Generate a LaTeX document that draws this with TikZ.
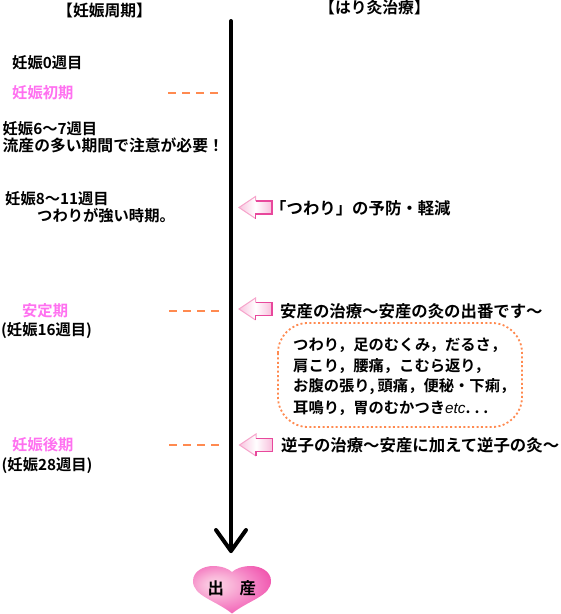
\documentclass[tikz,border=0pt]{standalone}
\usepackage{fontspec}
\setmainfont{Noto Sans CJK JP}[BoldFont={Noto Sans CJK JP Bold}]
\newfontfamily\latinlabel{Liberation Sans}
\definecolor{dashorange}{HTML}{FF8A50}
\definecolor{softpink}{HTML}{FF70F0}
\definecolor{rimpink}{HTML}{E8489C}
\definecolor{lightrim}{HTML}{F6A6CC}
\definecolor{fillpink}{HTML}{F8BEDC}
\definecolor{heartA}{HTML}{FCD6E8}
\definecolor{heartB}{HTML}{F9B4D8}
\definecolor{heartC}{HTML}{F478C0}
\definecolor{heartD}{HTML}{EE3FA2}
\pgfdeclareradialshading{heartball}{\pgfpoint{-12bp}{6bp}}{
  color(0bp)=(heartA);
  color(10bp)=(heartB);
  color(24bp)=(heartC);
  color(38bp)=(heartD);
  color(60bp)=(heartD)}
\tikzset{
  x=1pt,y=-1pt,
  lbl/.style={anchor=west,inner sep=0pt,yshift=-1pt,font=\fontsize{15.3}{15.3}\selectfont\bfseries,text=black},
  biglbl/.style={lbl,font=\fontsize{16.4}{16.4}\selectfont\bfseries},
  midlbl/.style={lbl,font=\fontsize{15.8}{15.8}\selectfont\bfseries},
  softlbl/.style={lbl,text=softpink},
  tick/.style={draw=dashorange,line width=1.6pt,dash pattern=on 8pt off 6pt},
  axisline/.style={draw=black,line width=4pt,line cap=round,line join=round},
  noteframe/.style={draw=dashorange,line width=1.8pt,dash pattern=on 2pt off 2.4pt,rounded corners=30pt},
  pinkarrow/.pic={
    \path[left color=fillpink!90!white,right color=fillpink,middle color=white]
      (-16.5,0)--(0,-11)--(0,-6.5)--(16.5,-6.5)--(16.5,6.5)--(0,6.5)--(0,11)--cycle;
    \draw[lightrim,line width=1pt] (0,-6.5)--(0,-11)--(-16.5,0)--(0,11);
    \draw[rimpink,line width=1.4pt] (0,-6.5)--(16.5,-6.5)--(16.5,6.5)--(0,6.5)--(0,11);
  }
}
\begin{document}
\begin{tikzpicture}
\useasboundingbox (0,0) rectangle (561,614);
% heart
\path[shading=heartball]
  (232,613.5) .. controls (215,600) and (193,596) .. (193,581)
  .. controls (193,571) and (204,566) .. (213,566)
  .. controls (222,566) and (229,569) .. (232,572)
  .. controls (235,569) and (242,566) .. (251,566)
  .. controls (260,566) and (271,571) .. (271,581)
  .. controls (271,596) and (249,600) .. (232,613.5) -- cycle;
\node[biglbl] (birth1) at (207.5,587.5) {出};
\node[biglbl] (birth2) at (239.5,587.5) {産};
% main axis
\coordinate (top) at (231,21);
\coordinate (tip) at (231,551);
\coordinate (barbL) at (216,530);
\coordinate (barbR) at (246,530);
\draw[axisline] (top) -- (tip);
\draw[axisline] (barbL) -- (tip) -- (barbR);
% headers
\node[midlbl] (headL) at (57,10) {【妊娠周期】};
\node[midlbl] (headR) at (319,6.5) {【はり灸治療】};
% left column
\node[lbl] (w0) at (12,62) {妊娠0週目};
\node[softlbl] (early) at (12,92) {妊娠初期};
\node[lbl] (w6) at (2.5,128) {妊娠6〜7週目};
\node[midlbl] (w6b) at (2.5,144) {流産の多い期間で注意が必要！};
\node[lbl] (w8) at (5,198) {妊娠8〜11週目};
\node[lbl] (w8b) at (37,215) {つわりが強い時期。};
\node[softlbl] (stable) at (22,310) {安定期};
\node[lbl] (w16) at (1,330) {(妊娠16週目)};
\node[softlbl] (late) at (12,444) {妊娠後期};
\node[lbl] (w28) at (1.5,465) {(妊娠28週目)};
% dashes
\coordinate (d1a) at (168,93); \coordinate (d1b) at (218,93);
\coordinate (d2a) at (169,311); \coordinate (d2b) at (219,311);
\coordinate (d3a) at (169,445); \coordinate (d3b) at (219,445);
\draw[tick] (d1a) -- (d1b);
\draw[tick] (d2a) -- (d2b);
\draw[tick] (d3a) -- (d3b);
% pointer arrows
\pic at (255.5,207.5) {pinkarrow};
\pic at (255.5,309) {pinkarrow};
\pic at (256,445) {pinkarrow};
% right column
\node[biglbl] (t1) at (270,207) {「つわり」の予防・軽減};
\node[biglbl] (t2) at (280,310) {安産の治療〜安産の灸の出番です〜};
\node[biglbl] (t3) at (281,444) {逆子の治療〜安産に加えて逆子の灸〜};
% note
\draw[noteframe] (278,323) rectangle (522,427);
\node[lbl] (n1) at (293,344) {つわり，足のむくみ，だるさ，};
\node[lbl] (n2) at (293,365) {肩こり，腰痛，こむら返り，};
\node[lbl] (n3) at (293,386) {お腹の張り,\kern3pt 頭痛，便秘・下痢，};
\node[lbl] (n4) at (293,407) {耳鳴り，胃のむかつき{\mdseries\itshape\latinlabel etc}.\kern4pt.\kern4pt.};
\end{tikzpicture}
\end{document}
